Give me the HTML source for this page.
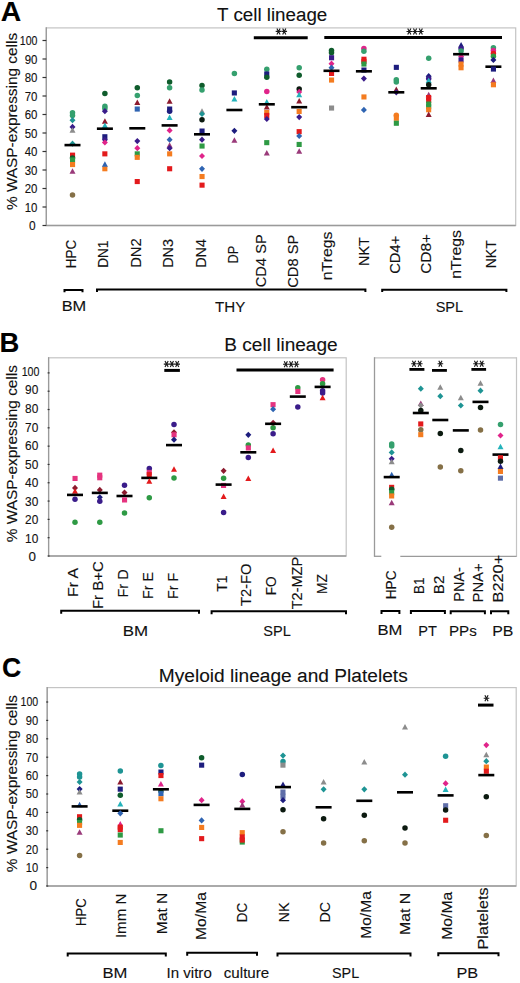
<!DOCTYPE html>
<html><head><meta charset="utf-8"><title>WASP expression</title>
<style>
html,body{margin:0;padding:0;background:#fff;width:520px;height:983px;overflow:hidden;}
svg{display:block;}
text{font-family:"Liberation Sans",sans-serif;stroke:#111;stroke-width:0.12px;}
</style></head>
<body>
<svg width="520" height="983" viewBox="0 0 520 983">
<rect x="46.3" y="27.9" width="469.4" height="197.6" fill="none" stroke="#c4c4c4" stroke-width="1.2"/>
<line x1="46.3" y1="27.3" x2="46.3" y2="225.5" stroke="#9a9a9a" stroke-width="1.3"/>
<line x1="45.7" y1="225.5" x2="515.7" y2="225.5" stroke="#9a9a9a" stroke-width="1.3"/>
<line x1="42.5" y1="225.5" x2="46.3" y2="225.5" stroke="#333" stroke-width="1.2"/>
<line x1="42.5" y1="207.0" x2="46.3" y2="207.0" stroke="#333" stroke-width="1.2"/>
<line x1="42.5" y1="188.5" x2="46.3" y2="188.5" stroke="#333" stroke-width="1.2"/>
<line x1="42.5" y1="170.0" x2="46.3" y2="170.0" stroke="#333" stroke-width="1.2"/>
<line x1="42.5" y1="151.5" x2="46.3" y2="151.5" stroke="#333" stroke-width="1.2"/>
<line x1="42.5" y1="133.0" x2="46.3" y2="133.0" stroke="#333" stroke-width="1.2"/>
<line x1="42.5" y1="114.5" x2="46.3" y2="114.5" stroke="#333" stroke-width="1.2"/>
<line x1="42.5" y1="96.0" x2="46.3" y2="96.0" stroke="#333" stroke-width="1.2"/>
<line x1="42.5" y1="77.5" x2="46.3" y2="77.5" stroke="#333" stroke-width="1.2"/>
<line x1="42.5" y1="59.0" x2="46.3" y2="59.0" stroke="#333" stroke-width="1.2"/>
<line x1="42.5" y1="40.5" x2="46.3" y2="40.5" stroke="#333" stroke-width="1.2"/>
<text x="29.05" y="230.02" font-size="13" textLength="6.63" lengthAdjust="spacingAndGlyphs" fill="#111">0</text>
<text x="24.75" y="211.52" font-size="13" textLength="12.73" lengthAdjust="spacingAndGlyphs" fill="#111">10</text>
<text x="24.75" y="193.02" font-size="13" textLength="12.73" lengthAdjust="spacingAndGlyphs" fill="#111">20</text>
<text x="24.75" y="174.52" font-size="13" textLength="12.73" lengthAdjust="spacingAndGlyphs" fill="#111">30</text>
<text x="24.75" y="156.02" font-size="13" textLength="12.73" lengthAdjust="spacingAndGlyphs" fill="#111">40</text>
<text x="24.75" y="137.52" font-size="13" textLength="12.73" lengthAdjust="spacingAndGlyphs" fill="#111">50</text>
<text x="24.75" y="119.02" font-size="13" textLength="12.73" lengthAdjust="spacingAndGlyphs" fill="#111">60</text>
<text x="24.75" y="100.52" font-size="13" textLength="12.73" lengthAdjust="spacingAndGlyphs" fill="#111">70</text>
<text x="24.75" y="82.02" font-size="13" textLength="12.73" lengthAdjust="spacingAndGlyphs" fill="#111">80</text>
<text x="24.75" y="63.52" font-size="13" textLength="12.73" lengthAdjust="spacingAndGlyphs" fill="#111">90</text>
<text x="19.85" y="45.02" font-size="13" textLength="17.65" lengthAdjust="spacingAndGlyphs" fill="#111">100</text>
<circle cx="72.5" cy="112.8" r="2.75" fill="#35a06e"/>
<circle cx="72.5" cy="115.5" r="2.75" fill="#35a06e"/>
<path d="M72.5 117.1L75.5 120.2L72.5 123.3L69.5 120.2Z" fill="#1e9494"/>
<path d="M72.5 123.8L75.5 126.9L72.5 130.0L69.5 126.9Z" fill="#3a1c8a"/>
<path d="M72.5 127.3L75.5 132.8L69.5 132.8Z" fill="#8c8c8c"/>
<path d="M72.5 140.6L75.5 143.7L72.5 146.8L69.5 143.7Z" fill="#1e9494"/>
<rect x="64.5" y="143.8" width="16" height="2.6" fill="#000"/>
<rect x="70.0" y="152.6" width="5.1" height="5.1" fill="#e31a1c"/>
<circle cx="72.5" cy="157.9" r="2.75" fill="#0f5c2c"/>
<rect x="70.0" y="157.4" width="5.1" height="5.1" fill="#2e9a44"/>
<rect x="70.0" y="162.0" width="5.1" height="5.1" fill="#f47c20"/>
<path d="M72.5 168.3L75.5 173.8L69.5 173.8Z" fill="#9a3a7a"/>
<circle cx="72.5" cy="194.9" r="2.75" fill="#857047"/>
<circle cx="104.9" cy="93.4" r="2.75" fill="#0f5c2c"/>
<circle cx="104.9" cy="106.2" r="2.75" fill="#35a06e"/>
<circle cx="104.9" cy="108.4" r="2.75" fill="#35a06e"/>
<path d="M104.9 108.1L107.9 111.2L104.9 114.3L101.9 111.2Z" fill="#3a1c8a"/>
<path d="M104.9 118.2L107.9 123.7L101.9 123.7Z" fill="#8c1a2e"/>
<path d="M104.9 122.4L107.9 127.9L101.9 127.9Z" fill="#25b3bb"/>
<rect x="96.9" y="127.4" width="16" height="2.6" fill="#000"/>
<rect x="102.3" y="134.2" width="5.1" height="5.1" fill="#1d1d7e"/>
<path d="M104.9 136.6L107.9 139.7L104.9 142.8L101.9 139.7Z" fill="#3a1c8a"/>
<path d="M104.9 139.4L107.9 142.5L104.9 145.6L101.9 142.5Z" fill="#e0248a"/>
<rect x="102.3" y="151.3" width="5.1" height="5.1" fill="#e31a1c"/>
<rect x="102.3" y="166.2" width="5.1" height="5.1" fill="#f47c20"/>
<path d="M104.9 161.2L107.9 166.7L101.9 166.7Z" fill="#2f64b2"/>
<circle cx="137.3" cy="87.7" r="2.75" fill="#0f5c2c"/>
<circle cx="137.3" cy="95.6" r="2.75" fill="#35a06e"/>
<path d="M137.3 99.4L140.3 104.9L134.3 104.9Z" fill="#8c1a2e"/>
<rect x="134.7" y="106.5" width="5.1" height="5.1" fill="#2f64b2"/>
<rect x="129.3" y="127.0" width="16" height="2.6" fill="#000"/>
<path d="M137.3 138.0L140.3 141.1L137.3 144.2L134.3 141.1Z" fill="#3a1c8a"/>
<path d="M137.3 145.1L140.3 148.2L137.3 151.3L134.3 148.2Z" fill="#e0248a"/>
<rect x="134.7" y="151.3" width="5.1" height="5.1" fill="#2e9a44"/>
<rect x="134.7" y="154.8" width="5.1" height="5.1" fill="#f47c20"/>
<rect x="134.7" y="179.0" width="5.1" height="5.1" fill="#e31a1c"/>
<circle cx="169.6" cy="82.0" r="2.75" fill="#0f5c2c"/>
<circle cx="169.6" cy="87.7" r="2.75" fill="#35a06e"/>
<path d="M169.6 98.3L172.6 103.8L166.6 103.8Z" fill="#8c1a2e"/>
<rect x="167.1" y="106.5" width="5.1" height="5.1" fill="#1d1d7e"/>
<circle cx="169.6" cy="111.2" r="2.75" fill="#1d1d7e"/>
<path d="M169.6 114.6L172.6 120.1L166.6 120.1Z" fill="#25b3bb"/>
<rect x="161.6" y="124.1" width="16" height="2.6" fill="#000"/>
<path d="M169.6 127.3L172.6 130.4L169.6 133.5L166.6 130.4Z" fill="#e0248a"/>
<path d="M169.6 136.6L172.6 139.7L169.6 142.8L166.6 139.7Z" fill="#2f64b2"/>
<path d="M169.6 142.3L172.6 147.8L166.6 147.8Z" fill="#9a3a7a"/>
<path d="M169.6 145.1L172.6 148.2L169.6 151.3L166.6 148.2Z" fill="#3a1c8a"/>
<rect x="167.1" y="151.3" width="5.1" height="5.1" fill="#f47c20"/>
<rect x="167.1" y="166.2" width="5.1" height="5.1" fill="#e31a1c"/>
<circle cx="202.0" cy="85.6" r="2.75" fill="#0f5c2c"/>
<circle cx="202.0" cy="89.9" r="2.75" fill="#35a06e"/>
<path d="M202.0 108.2L205.0 113.7L199.0 113.7Z" fill="#8c8c8c"/>
<path d="M202.0 110.9L205.0 114.0L202.0 117.1L199.0 114.0Z" fill="#1e9494"/>
<circle cx="202.0" cy="119.7" r="2.75" fill="#0c1a10"/>
<rect x="199.5" y="128.5" width="5.1" height="5.1" fill="#1d1d7e"/>
<rect x="194.0" y="133.0" width="16" height="2.6" fill="#000"/>
<path d="M202.0 136.6L205.0 139.7L202.0 142.8L199.0 139.7Z" fill="#3a1c8a"/>
<rect x="199.5" y="143.5" width="5.1" height="5.1" fill="#2e9a44"/>
<path d="M202.0 152.9L205.0 156.0L202.0 159.1L199.0 156.0Z" fill="#e0248a"/>
<path d="M202.0 165.7L205.0 168.8L202.0 171.9L199.0 168.8Z" fill="#2f64b2"/>
<rect x="199.5" y="174.0" width="5.1" height="5.1" fill="#f47c20"/>
<rect x="199.5" y="182.6" width="5.1" height="5.1" fill="#e31a1c"/>
<circle cx="234.4" cy="73.4" r="2.75" fill="#35a06e"/>
<rect x="231.8" y="90.4" width="5.1" height="5.1" fill="#1d1d7e"/>
<path d="M234.4 96.0L237.4 101.5L231.4 101.5Z" fill="#25b3bb"/>
<rect x="226.4" y="108.7" width="16" height="2.6" fill="#000"/>
<path d="M234.4 127.7L237.4 130.8L234.4 133.9L231.4 130.8Z" fill="#1d1d7e"/>
<path d="M234.4 137.3L237.4 142.8L231.4 142.8Z" fill="#9a3a7a"/>
<circle cx="266.8" cy="69.2" r="2.75" fill="#35a06e"/>
<rect x="264.2" y="71.4" width="5.1" height="5.1" fill="#1d1d7e"/>
<circle cx="266.8" cy="77.3" r="2.75" fill="#0f5c2c"/>
<circle cx="266.8" cy="91.5" r="2.75" fill="#e0248a"/>
<path d="M266.8 98.9L269.8 104.4L263.8 104.4Z" fill="#25b3bb"/>
<path d="M266.8 103.9L269.8 109.4L263.8 109.4Z" fill="#8c1a2e"/>
<rect x="258.8" y="103.0" width="16" height="2.6" fill="#000"/>
<rect x="264.2" y="110.0" width="5.1" height="5.1" fill="#f47c20"/>
<rect x="264.2" y="112.9" width="5.1" height="5.1" fill="#e31a1c"/>
<path d="M266.8 115.9L269.8 119.0L266.8 122.1L263.8 119.0Z" fill="#3a1c8a"/>
<rect x="264.2" y="140.1" width="5.1" height="5.1" fill="#2e9a44"/>
<path d="M266.8 150.1L269.8 155.6L263.8 155.6Z" fill="#9a3a7a"/>
<circle cx="299.2" cy="67.7" r="2.75" fill="#35a06e"/>
<circle cx="299.2" cy="75.2" r="2.75" fill="#0f5c2c"/>
<circle cx="299.2" cy="89.0" r="2.75" fill="#0c1a10"/>
<path d="M299.2 88.8L302.2 91.9L299.2 95.0L296.2 91.9Z" fill="#e0248a"/>
<path d="M299.2 91.7L302.2 97.2L296.2 97.2Z" fill="#25b3bb"/>
<path d="M299.2 98.1L302.2 103.6L296.2 103.6Z" fill="#8c1a2e"/>
<rect x="291.2" y="105.9" width="16" height="2.6" fill="#000"/>
<rect x="296.6" y="108.9" width="5.1" height="5.1" fill="#f47c20"/>
<path d="M299.2 114.0L302.2 117.1L299.2 120.2L296.2 117.1Z" fill="#3a1c8a"/>
<rect x="296.6" y="129.1" width="5.1" height="5.1" fill="#e31a1c"/>
<path d="M299.2 132.9L302.2 136.0L299.2 139.1L296.2 136.0Z" fill="#2f64b2"/>
<rect x="296.6" y="141.9" width="5.1" height="5.1" fill="#2e9a44"/>
<path d="M299.2 148.3L302.2 153.8L296.2 153.8Z" fill="#9a3a7a"/>
<circle cx="331.5" cy="50.6" r="2.75" fill="#0f5c2c"/>
<circle cx="331.5" cy="52.8" r="2.75" fill="#0f5c2c"/>
<rect x="329.0" y="55.2" width="5.1" height="5.1" fill="#3a1c8a"/>
<path d="M331.5 60.6L334.5 63.7L331.5 66.8L328.5 63.7Z" fill="#e0248a"/>
<path d="M331.5 64.6L334.5 67.7L331.5 70.8L328.5 67.7Z" fill="#2f64b2"/>
<rect x="329.0" y="70.9" width="5.1" height="5.1" fill="#e31a1c"/>
<rect x="323.5" y="69.5" width="16" height="2.6" fill="#000"/>
<rect x="329.0" y="77.5" width="5.1" height="5.1" fill="#f47c20"/>
<rect x="329.0" y="105.5" width="5.1" height="5.1" fill="#8c8c8c"/>
<circle cx="363.9" cy="48.5" r="2.75" fill="#e0248a"/>
<circle cx="363.9" cy="51.3" r="2.75" fill="#35a06e"/>
<rect x="361.4" y="56.7" width="5.1" height="5.1" fill="#e31a1c"/>
<rect x="361.4" y="58.8" width="5.1" height="5.1" fill="#e31a1c"/>
<rect x="361.4" y="61.5" width="5.1" height="5.1" fill="#2e9a44"/>
<rect x="361.4" y="67.5" width="5.1" height="5.1" fill="#1d1d7e"/>
<rect x="355.9" y="70.0" width="16" height="2.6" fill="#000"/>
<path d="M363.9 75.5L366.9 78.6L363.9 81.7L360.9 78.6Z" fill="#3a1c8a"/>
<rect x="361.4" y="94.4" width="5.1" height="5.1" fill="#f47c20"/>
<path d="M363.9 106.8L366.9 109.9L363.9 113.0L360.9 109.9Z" fill="#2f64b2"/>
<rect x="393.8" y="64.8" width="5.1" height="5.1" fill="#1d1d7e"/>
<circle cx="396.3" cy="79.8" r="2.75" fill="#35a06e"/>
<circle cx="396.3" cy="81.9" r="2.75" fill="#35a06e"/>
<path d="M396.3 86.5L399.3 92.0L393.3 92.0Z" fill="#8c1a2e"/>
<path d="M396.3 89.2L399.3 92.3L396.3 95.4L393.3 92.3Z" fill="#3a1c8a"/>
<rect x="388.3" y="91.0" width="16" height="2.6" fill="#000"/>
<circle cx="396.3" cy="115.3" r="2.75" fill="#f47c20"/>
<rect x="393.8" y="115.7" width="5.1" height="5.1" fill="#f47c20"/>
<rect x="393.8" y="120.7" width="5.1" height="5.1" fill="#2e9a44"/>
<circle cx="428.7" cy="58.2" r="2.75" fill="#35a06e"/>
<path d="M428.7 73.1L431.7 76.2L428.7 79.3L425.7 76.2Z" fill="#1d1d7e"/>
<circle cx="428.7" cy="78.4" r="2.75" fill="#3a1c8a"/>
<path d="M428.7 77.5L431.7 83.0L425.7 83.0Z" fill="#25b3bb"/>
<circle cx="428.7" cy="84.8" r="2.75" fill="#0c1a10"/>
<rect x="420.7" y="87.0" width="16" height="2.6" fill="#000"/>
<path d="M428.7 91.7L431.7 97.2L425.7 97.2Z" fill="#9a3a7a"/>
<rect x="426.1" y="95.0" width="5.1" height="5.1" fill="#e31a1c"/>
<rect x="426.1" y="97.9" width="5.1" height="5.1" fill="#e31a1c"/>
<rect x="426.1" y="101.5" width="5.1" height="5.1" fill="#2e9a44"/>
<rect x="426.1" y="104.2" width="5.1" height="5.1" fill="#2e9a44"/>
<rect x="426.1" y="107.2" width="5.1" height="5.1" fill="#f47c20"/>
<path d="M428.7 111.6L431.7 117.1L425.7 117.1Z" fill="#8c1a2e"/>
<path d="M461.1 41.9L464.1 47.4L458.1 47.4Z" fill="#1d1d7e"/>
<circle cx="461.1" cy="48.5" r="2.75" fill="#3a1c8a"/>
<circle cx="461.1" cy="51.0" r="2.75" fill="#35a06e"/>
<path d="M461.1 53.4L464.1 56.5L461.1 59.6L458.1 56.5Z" fill="#e0248a"/>
<rect x="458.5" y="57.4" width="5.1" height="5.1" fill="#3a1c8a"/>
<rect x="453.1" y="52.9" width="16" height="2.6" fill="#000"/>
<rect x="458.5" y="61.5" width="5.1" height="5.1" fill="#f47c20"/>
<rect x="458.5" y="65.2" width="5.1" height="5.1" fill="#f47c20"/>
<circle cx="493.4" cy="47.8" r="2.75" fill="#35a06e"/>
<circle cx="493.4" cy="50.5" r="2.75" fill="#e0248a"/>
<circle cx="493.4" cy="53.5" r="2.75" fill="#e31a1c"/>
<circle cx="493.4" cy="56.3" r="2.75" fill="#2e9a44"/>
<path d="M493.4 56.8L496.4 59.9L493.4 63.0L490.4 59.9Z" fill="#1d1d7e"/>
<rect x="485.4" y="65.4" width="16" height="2.6" fill="#000"/>
<rect x="490.9" y="66.5" width="5.1" height="5.1" fill="#1d1d7e"/>
<path d="M493.4 77.5L496.4 83.0L490.4 83.0Z" fill="#9a3a7a"/>
<rect x="490.9" y="82.2" width="5.1" height="5.1" fill="#f47c20"/>
<line x1="253.8" y1="37.7" x2="307.7" y2="37.7" stroke="#000" stroke-width="3"/>
<path d="M275.70 31.40H281.30M276.90 28.40L280.10 34.40M276.90 34.40L280.10 28.40" stroke="#1a1a1a" stroke-width="1.15" fill="none"/>
<path d="M281.45 31.40H287.05M282.65 28.40L285.85 34.40M282.65 34.40L285.85 28.40" stroke="#1a1a1a" stroke-width="1.15" fill="none"/>
<line x1="324.3" y1="37.5" x2="502.0" y2="37.5" stroke="#000" stroke-width="3"/>
<path d="M406.50 31.50H412.10M407.70 28.50L410.90 34.50M407.70 34.50L410.90 28.50" stroke="#1a1a1a" stroke-width="1.15" fill="none"/>
<path d="M412.25 31.50H417.85M413.45 28.50L416.65 34.50M413.45 34.50L416.65 28.50" stroke="#1a1a1a" stroke-width="1.15" fill="none"/>
<path d="M418.00 31.50H423.60M419.20 28.50L422.40 34.50M419.20 34.50L422.40 28.50" stroke="#1a1a1a" stroke-width="1.15" fill="none"/>
<path d="M64.5 292.3V290.0H82.5V292.3" fill="none" stroke="#000" stroke-width="2"/>
<path d="M97.0 291.90000000000003V289.6H365.4V291.90000000000003" fill="none" stroke="#000" stroke-width="2"/>
<path d="M382.2 292.0V289.7H506.4V292.0" fill="none" stroke="#000" stroke-width="2"/>
<rect x="48.6" y="357.8" width="297.6" height="198.2" fill="none" stroke="#c4c4c4" stroke-width="1.2"/>
<line x1="48.6" y1="357.2" x2="48.6" y2="556.0" stroke="#9a9a9a" stroke-width="1.3"/>
<line x1="48.0" y1="556.0" x2="346.2" y2="556.0" stroke="#9a9a9a" stroke-width="1.3"/>
<line x1="47.6" y1="556.0" x2="49.6" y2="556.0" stroke="#333" stroke-width="1.2"/>
<line x1="47.6" y1="537.69" x2="49.6" y2="537.69" stroke="#333" stroke-width="1.2"/>
<line x1="47.6" y1="519.38" x2="49.6" y2="519.38" stroke="#333" stroke-width="1.2"/>
<line x1="47.6" y1="501.07" x2="49.6" y2="501.07" stroke="#333" stroke-width="1.2"/>
<line x1="47.6" y1="482.76" x2="49.6" y2="482.76" stroke="#333" stroke-width="1.2"/>
<line x1="47.6" y1="464.45" x2="49.6" y2="464.45" stroke="#333" stroke-width="1.2"/>
<line x1="47.6" y1="446.14" x2="49.6" y2="446.14" stroke="#333" stroke-width="1.2"/>
<line x1="47.6" y1="427.83" x2="49.6" y2="427.83" stroke="#333" stroke-width="1.2"/>
<line x1="47.6" y1="409.52" x2="49.6" y2="409.52" stroke="#333" stroke-width="1.2"/>
<line x1="47.6" y1="391.21" x2="49.6" y2="391.21" stroke="#333" stroke-width="1.2"/>
<line x1="47.6" y1="372.9" x2="49.6" y2="372.9" stroke="#333" stroke-width="1.2"/>
<text x="28.55" y="561.32" font-size="13" textLength="7.45" lengthAdjust="spacingAndGlyphs" fill="#111">0</text>
<text x="25.10" y="542.78" font-size="13" textLength="13.20" lengthAdjust="spacingAndGlyphs" fill="#111">10</text>
<text x="25.10" y="524.24" font-size="13" textLength="13.20" lengthAdjust="spacingAndGlyphs" fill="#111">20</text>
<text x="25.10" y="505.70" font-size="13" textLength="13.20" lengthAdjust="spacingAndGlyphs" fill="#111">30</text>
<text x="25.10" y="487.16" font-size="13" textLength="13.20" lengthAdjust="spacingAndGlyphs" fill="#111">40</text>
<text x="25.10" y="468.62" font-size="13" textLength="13.20" lengthAdjust="spacingAndGlyphs" fill="#111">50</text>
<text x="25.10" y="450.08" font-size="13" textLength="13.20" lengthAdjust="spacingAndGlyphs" fill="#111">60</text>
<text x="25.10" y="431.54" font-size="13" textLength="13.20" lengthAdjust="spacingAndGlyphs" fill="#111">70</text>
<text x="25.10" y="413.00" font-size="13" textLength="13.20" lengthAdjust="spacingAndGlyphs" fill="#111">80</text>
<text x="25.10" y="394.46" font-size="13" textLength="13.20" lengthAdjust="spacingAndGlyphs" fill="#111">90</text>
<text x="21.70" y="375.92" font-size="13" textLength="17.80" lengthAdjust="spacingAndGlyphs" fill="#111">100</text>
<line x1="374.5" y1="357.8" x2="516.5" y2="357.8" stroke="#c4c4c4" stroke-width="1.2"/>
<line x1="516.5" y1="357.2" x2="516.5" y2="556.9" stroke="#c4c4c4" stroke-width="1.2"/>
<line x1="374.5" y1="357.2" x2="374.5" y2="556.3" stroke="#9a9a9a" stroke-width="1.3"/>
<line x1="373.9" y1="556.3" x2="381.3" y2="556.3" stroke="#9a9a9a" stroke-width="1.3"/>
<line x1="400.3" y1="556.3" x2="516.5" y2="556.3" stroke="#9a9a9a" stroke-width="1.3"/>
<rect x="72.5" y="475.9" width="5.1" height="5.1" fill="#e5337f"/>
<path d="M75.0 484.8L78.0 487.9L75.0 491.0L72.0 487.9Z" fill="#8c1a2e"/>
<path d="M75.0 488.2L78.0 493.7L72.0 493.7Z" fill="#e31a1c"/>
<rect x="67.0" y="493.6" width="16" height="2.6" fill="#000"/>
<circle cx="75.0" cy="499.3" r="2.75" fill="#3a1c8a"/>
<circle cx="75.0" cy="522.2" r="2.75" fill="#2e9a44"/>
<rect x="97.2" y="472.6" width="5.1" height="5.1" fill="#e5337f"/>
<rect x="97.2" y="475.2" width="5.1" height="5.1" fill="#e5337f"/>
<path d="M99.8 486.8L102.8 489.9L99.8 493.0L96.8 489.9Z" fill="#8c1a2e"/>
<rect x="91.8" y="491.6" width="16" height="2.6" fill="#000"/>
<path d="M99.8 494.2L102.8 497.3L99.8 500.4L96.8 497.3Z" fill="#1d1d7e"/>
<circle cx="99.8" cy="501.3" r="2.75" fill="#3a1c8a"/>
<circle cx="99.8" cy="522.2" r="2.75" fill="#2e9a44"/>
<circle cx="124.5" cy="485.2" r="2.75" fill="#3a1c8a"/>
<path d="M124.5 489.5L127.5 492.6L124.5 495.7L121.5 492.6Z" fill="#8c1a2e"/>
<rect x="116.5" y="494.7" width="16" height="2.6" fill="#000"/>
<rect x="122.0" y="497.4" width="5.1" height="5.1" fill="#e5337f"/>
<circle cx="124.5" cy="513.0" r="2.75" fill="#2e9a44"/>
<circle cx="149.3" cy="468.5" r="2.75" fill="#3a1c8a"/>
<rect x="146.7" y="469.9" width="5.1" height="5.1" fill="#e5337f"/>
<rect x="146.7" y="472.1" width="5.1" height="5.1" fill="#e31a1c"/>
<rect x="141.3" y="476.6" width="16" height="2.6" fill="#000"/>
<path d="M149.3 478.3L152.3 483.8L146.3 483.8Z" fill="#e31a1c"/>
<circle cx="149.3" cy="497.8" r="2.75" fill="#2e9a44"/>
<circle cx="174.0" cy="424.4" r="2.75" fill="#3a1c8a"/>
<path d="M174.0 429.2L177.0 432.3L174.0 435.4L171.0 432.3Z" fill="#8c1a2e"/>
<rect x="171.5" y="432.2" width="5.1" height="5.1" fill="#e5337f"/>
<path d="M174.0 436.6L177.0 439.7L174.0 442.8L171.0 439.7Z" fill="#1d1d7e"/>
<rect x="166.0" y="443.8" width="16" height="2.6" fill="#000"/>
<path d="M174.0 466.3L177.0 471.8L171.0 471.8Z" fill="#e31a1c"/>
<circle cx="174.0" cy="477.9" r="2.75" fill="#2e9a44"/>
<path d="M223.6 467.7L226.6 470.8L223.6 473.9L220.6 470.8Z" fill="#8c1a2e"/>
<circle cx="223.6" cy="478.2" r="2.75" fill="#2e9a44"/>
<rect x="221.0" y="482.9" width="5.1" height="5.1" fill="#e5337f"/>
<rect x="215.6" y="483.3" width="16" height="2.6" fill="#000"/>
<path d="M223.6 493.4L226.6 498.9L220.6 498.9Z" fill="#e31a1c"/>
<circle cx="223.6" cy="512.6" r="2.75" fill="#3a1c8a"/>
<path d="M248.3 431.7L251.3 434.8L248.3 437.9L245.3 434.8Z" fill="#1d1d7e"/>
<circle cx="248.3" cy="445.1" r="2.75" fill="#2e9a44"/>
<rect x="245.8" y="445.4" width="5.1" height="5.1" fill="#e5337f"/>
<rect x="240.3" y="451.0" width="16" height="2.6" fill="#000"/>
<circle cx="248.3" cy="457.5" r="2.75" fill="#3a1c8a"/>
<path d="M248.3 475.4L251.3 480.9L245.3 480.9Z" fill="#e31a1c"/>
<rect x="270.5" y="402.1" width="5.1" height="5.1" fill="#e5337f"/>
<path d="M273.1 406.1L276.1 409.2L273.1 412.3L270.1 409.2Z" fill="#2f64b2"/>
<circle cx="273.1" cy="427.7" r="2.75" fill="#2e9a44"/>
<path d="M273.1 419.7L276.1 422.8L273.1 425.9L270.1 422.8Z" fill="#8c1a2e"/>
<rect x="265.1" y="422.5" width="16" height="2.6" fill="#000"/>
<circle cx="273.1" cy="433.8" r="2.75" fill="#3a1c8a"/>
<path d="M273.1 447.5L276.1 453.0L270.1 453.0Z" fill="#e31a1c"/>
<circle cx="297.8" cy="387.7" r="2.75" fill="#2e9a44"/>
<rect x="295.3" y="388.9" width="5.1" height="5.1" fill="#e5337f"/>
<rect x="289.8" y="395.3" width="16" height="2.6" fill="#000"/>
<circle cx="297.8" cy="406.9" r="2.75" fill="#3a1c8a"/>
<circle cx="322.6" cy="379.7" r="2.75" fill="#e5337f"/>
<circle cx="322.6" cy="383.8" r="2.75" fill="#2e9a44"/>
<circle cx="322.6" cy="390.8" r="2.75" fill="#3a1c8a"/>
<circle cx="322.6" cy="393.1" r="2.75" fill="#3a1c8a"/>
<rect x="314.6" y="385.6" width="16" height="2.6" fill="#000"/>
<path d="M322.6 394.7L325.6 400.2L319.6 400.2Z" fill="#e31a1c"/>
<line x1="164.3" y1="370.4" x2="179.9" y2="370.4" stroke="#000" stroke-width="3"/>
<path d="M163.80 364.10H169.40M165.00 361.10L168.20 367.10M165.00 367.10L168.20 361.10" stroke="#1a1a1a" stroke-width="1.15" fill="none"/>
<path d="M169.10 364.10H174.70M170.30 361.10L173.50 367.10M170.30 367.10L173.50 361.10" stroke="#1a1a1a" stroke-width="1.15" fill="none"/>
<path d="M174.40 364.10H180.00M175.60 361.10L178.80 367.10M175.60 367.10L178.80 361.10" stroke="#1a1a1a" stroke-width="1.15" fill="none"/>
<line x1="236.5" y1="370.0" x2="333.6" y2="370.0" stroke="#000" stroke-width="3"/>
<path d="M283.00 364.20H288.60M284.20 361.20L287.40 367.20M284.20 367.20L287.40 361.20" stroke="#1a1a1a" stroke-width="1.15" fill="none"/>
<path d="M288.30 364.20H293.90M289.50 361.20L292.70 367.20M289.50 367.20L292.70 361.20" stroke="#1a1a1a" stroke-width="1.15" fill="none"/>
<path d="M293.60 364.20H299.20M294.80 361.20L298.00 367.20M294.80 367.20L298.00 361.20" stroke="#1a1a1a" stroke-width="1.15" fill="none"/>
<circle cx="391.7" cy="443.9" r="2.75" fill="#35a06e"/>
<circle cx="391.7" cy="446.0" r="2.75" fill="#35a06e"/>
<path d="M391.7 449.3L394.7 452.4L391.7 455.5L388.7 452.4Z" fill="#1e9494"/>
<path d="M391.7 455.7L394.7 458.8L391.7 461.9L388.7 458.8Z" fill="#3a1c8a"/>
<path d="M391.7 458.7L394.7 464.2L388.7 464.2Z" fill="#8c8c8c"/>
<path d="M391.7 471.8L394.7 477.3L388.7 477.3Z" fill="#2f64b2"/>
<rect x="383.7" y="475.8" width="16" height="2.6" fill="#000"/>
<rect x="389.1" y="484.8" width="5.1" height="5.1" fill="#e31a1c"/>
<circle cx="391.7" cy="489.2" r="2.75" fill="#0f5c2c"/>
<rect x="389.1" y="490.1" width="5.1" height="5.1" fill="#2e9a44"/>
<rect x="389.1" y="493.4" width="5.1" height="5.1" fill="#f47c20"/>
<path d="M391.7 499.7L394.7 505.2L388.7 505.2Z" fill="#9a3a7a"/>
<circle cx="391.7" cy="527.2" r="2.75" fill="#857047"/>
<path d="M420.8 385.6L423.8 388.7L420.8 391.8L417.8 388.7Z" fill="#1e9494"/>
<path d="M420.8 400.4L423.8 405.9L417.8 405.9Z" fill="#9a3a7a"/>
<path d="M420.8 402.4L423.8 405.5L420.8 408.6L417.8 405.5Z" fill="#8c8c8c"/>
<circle cx="420.8" cy="410.5" r="2.75" fill="#0c1a10"/>
<rect x="412.8" y="411.7" width="16" height="2.6" fill="#000"/>
<rect x="418.2" y="421.4" width="5.1" height="5.1" fill="#e31a1c"/>
<circle cx="420.8" cy="429.7" r="2.75" fill="#857047"/>
<rect x="418.2" y="432.1" width="5.1" height="5.1" fill="#f47c20"/>
<path d="M440.3 384.2L443.3 389.7L437.3 389.7Z" fill="#8c8c8c"/>
<path d="M440.3 393.1L443.3 396.2L440.3 399.3L437.3 396.2Z" fill="#1e9494"/>
<rect x="432.3" y="418.7" width="16" height="2.6" fill="#000"/>
<circle cx="440.3" cy="433.5" r="2.75" fill="#0c1a10"/>
<circle cx="440.3" cy="467.0" r="2.75" fill="#857047"/>
<path d="M460.8 394.8L463.8 400.3L457.8 400.3Z" fill="#8c8c8c"/>
<path d="M460.8 402.4L463.8 405.5L460.8 408.6L457.8 405.5Z" fill="#1e9494"/>
<rect x="452.8" y="429.1" width="16" height="2.6" fill="#000"/>
<circle cx="460.8" cy="450.4" r="2.75" fill="#0c1a10"/>
<circle cx="460.8" cy="470.7" r="2.75" fill="#857047"/>
<path d="M480.5 380.2L483.5 385.7L477.5 385.7Z" fill="#8c8c8c"/>
<path d="M480.5 387.6L483.5 390.7L480.5 393.8L477.5 390.7Z" fill="#1e9494"/>
<rect x="472.5" y="400.6" width="16" height="2.6" fill="#000"/>
<circle cx="480.5" cy="407.6" r="2.75" fill="#0c1a10"/>
<circle cx="480.5" cy="429.9" r="2.75" fill="#857047"/>
<circle cx="500.5" cy="424.5" r="2.75" fill="#35a06e"/>
<path d="M500.5 432.4L503.5 435.5L500.5 438.6L497.5 435.5Z" fill="#e0248a"/>
<path d="M500.5 443.8L503.5 449.3L497.5 449.3Z" fill="#25b3bb"/>
<rect x="492.5" y="453.3" width="16" height="2.6" fill="#000"/>
<rect x="497.9" y="455.2" width="5.1" height="5.1" fill="#e31a1c"/>
<circle cx="500.5" cy="461.2" r="2.75" fill="#0c1a10"/>
<path d="M500.5 463.5L503.5 469.0L497.5 469.0Z" fill="#1d1d7e"/>
<rect x="497.9" y="468.9" width="5.1" height="5.1" fill="#f47c20"/>
<rect x="497.9" y="475.6" width="5.1" height="5.1" fill="#5f6ea8"/>
<line x1="409.4" y1="369.4" x2="424.4" y2="369.4" stroke="#000" stroke-width="2.8"/>
<path d="M411.20 363.70H416.80M412.40 360.70L415.60 366.70M412.40 366.70L415.60 360.70" stroke="#1a1a1a" stroke-width="1.15" fill="none"/>
<path d="M416.95 363.70H422.55M418.15 360.70L421.35 366.70M418.15 366.70L421.35 360.70" stroke="#1a1a1a" stroke-width="1.15" fill="none"/>
<line x1="432.0" y1="370.4" x2="446.9" y2="370.4" stroke="#000" stroke-width="2.8"/>
<path d="M437.60 363.70H443.20M438.80 360.70L442.00 366.70M438.80 366.70L442.00 360.70" stroke="#1a1a1a" stroke-width="1.15" fill="none"/>
<line x1="471.4" y1="369.4" x2="486.1" y2="369.4" stroke="#000" stroke-width="2.8"/>
<path d="M473.20 363.70H478.80M474.40 360.70L477.60 366.70M474.40 366.70L477.60 360.70" stroke="#1a1a1a" stroke-width="1.15" fill="none"/>
<path d="M478.95 363.70H484.55M480.15 360.70L483.35 366.70M480.15 366.70L483.35 360.70" stroke="#1a1a1a" stroke-width="1.15" fill="none"/>
<path d="M61.2 613.8V610.8H199.0V613.8" fill="none" stroke="#000" stroke-width="2"/>
<path d="M211.6 614.2V611.2H346.0V614.2" fill="none" stroke="#000" stroke-width="2"/>
<path d="M381.5 614.1V611.1H399.4V614.1" fill="none" stroke="#000" stroke-width="2"/>
<path d="M410.9 614.1V611.1H444.9V614.1" fill="none" stroke="#000" stroke-width="2"/>
<path d="M450.7 614.3V611.3H484.9V614.3" fill="none" stroke="#000" stroke-width="2"/>
<path d="M491.0 614.3V611.3H508.3V614.3" fill="none" stroke="#000" stroke-width="2"/>
<rect x="47.2" y="687.6" width="469.0" height="198.4" fill="none" stroke="#c4c4c4" stroke-width="1.2"/>
<line x1="47.2" y1="687.0" x2="47.2" y2="886.0" stroke="#9a9a9a" stroke-width="1.3"/>
<line x1="46.6" y1="886.0" x2="516.2" y2="886.0" stroke="#9a9a9a" stroke-width="1.3"/>
<line x1="46.2" y1="886.0" x2="48.2" y2="886.0" stroke="#333" stroke-width="1.2"/>
<line x1="46.2" y1="867.6" x2="48.2" y2="867.6" stroke="#333" stroke-width="1.2"/>
<line x1="46.2" y1="849.2" x2="48.2" y2="849.2" stroke="#333" stroke-width="1.2"/>
<line x1="46.2" y1="830.8" x2="48.2" y2="830.8" stroke="#333" stroke-width="1.2"/>
<line x1="46.2" y1="812.4" x2="48.2" y2="812.4" stroke="#333" stroke-width="1.2"/>
<line x1="46.2" y1="794.0" x2="48.2" y2="794.0" stroke="#333" stroke-width="1.2"/>
<line x1="46.2" y1="775.6" x2="48.2" y2="775.6" stroke="#333" stroke-width="1.2"/>
<line x1="46.2" y1="757.2" x2="48.2" y2="757.2" stroke="#333" stroke-width="1.2"/>
<line x1="46.2" y1="738.8" x2="48.2" y2="738.8" stroke="#333" stroke-width="1.2"/>
<line x1="46.2" y1="720.4" x2="48.2" y2="720.4" stroke="#333" stroke-width="1.2"/>
<line x1="46.2" y1="702.0" x2="48.2" y2="702.0" stroke="#333" stroke-width="1.2"/>
<text x="29.40" y="890.42" font-size="13" textLength="7.57" lengthAdjust="spacingAndGlyphs" fill="#111">0</text>
<text x="25.75" y="872.01" font-size="13" textLength="12.42" lengthAdjust="spacingAndGlyphs" fill="#111">10</text>
<text x="25.75" y="853.60" font-size="13" textLength="12.42" lengthAdjust="spacingAndGlyphs" fill="#111">20</text>
<text x="25.75" y="835.19" font-size="13" textLength="12.42" lengthAdjust="spacingAndGlyphs" fill="#111">30</text>
<text x="25.75" y="816.78" font-size="13" textLength="12.42" lengthAdjust="spacingAndGlyphs" fill="#111">40</text>
<text x="25.75" y="798.37" font-size="13" textLength="12.42" lengthAdjust="spacingAndGlyphs" fill="#111">50</text>
<text x="25.75" y="779.96" font-size="13" textLength="12.42" lengthAdjust="spacingAndGlyphs" fill="#111">60</text>
<text x="25.75" y="761.55" font-size="13" textLength="12.42" lengthAdjust="spacingAndGlyphs" fill="#111">70</text>
<text x="25.75" y="743.14" font-size="13" textLength="12.42" lengthAdjust="spacingAndGlyphs" fill="#111">80</text>
<text x="25.75" y="724.73" font-size="13" textLength="12.42" lengthAdjust="spacingAndGlyphs" fill="#111">90</text>
<text x="20.55" y="706.32" font-size="13" textLength="17.65" lengthAdjust="spacingAndGlyphs" fill="#111">100</text>
<circle cx="79.6" cy="774.1" r="2.75" fill="#1e9494"/>
<circle cx="79.6" cy="777.0" r="2.75" fill="#1e9494"/>
<path d="M79.6 778.9L82.6 782.0L79.6 785.1L76.6 782.0Z" fill="#1e9494"/>
<path d="M79.6 786.0L82.6 789.1L79.6 792.2L76.6 789.1Z" fill="#1d1d7e"/>
<path d="M79.6 788.9L82.6 794.4L76.6 794.4Z" fill="#8c8c8c"/>
<path d="M79.6 801.7L82.6 807.2L76.6 807.2Z" fill="#2f64b2"/>
<rect x="71.6" y="805.1" width="16" height="2.6" fill="#000"/>
<rect x="77.0" y="814.2" width="5.1" height="5.1" fill="#e31a1c"/>
<circle cx="79.6" cy="819.7" r="2.75" fill="#0f5c2c"/>
<rect x="77.0" y="820.0" width="5.1" height="5.1" fill="#2e9a44"/>
<rect x="77.0" y="822.8" width="5.1" height="5.1" fill="#f47c20"/>
<path d="M79.6 829.2L82.6 834.7L76.6 834.7Z" fill="#9a3a7a"/>
<circle cx="79.6" cy="855.5" r="2.75" fill="#857047"/>
<circle cx="120.3" cy="771.0" r="2.75" fill="#1e9494"/>
<path d="M120.3 779.0L123.3 784.5L117.3 784.5Z" fill="#8c1a2e"/>
<rect x="117.7" y="786.6" width="5.1" height="5.1" fill="#1d1d7e"/>
<circle cx="120.3" cy="795.2" r="2.75" fill="#0f5c2c"/>
<path d="M120.3 801.0L123.3 806.5L117.3 806.5Z" fill="#25b3bb"/>
<rect x="112.3" y="809.4" width="16" height="2.6" fill="#000"/>
<path d="M120.3 810.2L123.3 813.3L120.3 816.4L117.3 813.3Z" fill="#2f64b2"/>
<path d="M120.3 820.9L123.3 826.4L117.3 826.4Z" fill="#e0248a"/>
<rect x="117.7" y="824.6" width="5.1" height="5.1" fill="#e31a1c"/>
<rect x="117.7" y="827.1" width="5.1" height="5.1" fill="#e31a1c"/>
<rect x="117.7" y="832.5" width="5.1" height="5.1" fill="#2e9a44"/>
<rect x="117.7" y="839.9" width="5.1" height="5.1" fill="#f47c20"/>
<circle cx="160.9" cy="765.6" r="2.75" fill="#1e9494"/>
<rect x="158.4" y="769.5" width="5.1" height="5.1" fill="#1d1d7e"/>
<rect x="158.4" y="773.0" width="5.1" height="5.1" fill="#e31a1c"/>
<path d="M160.9 781.1L163.9 786.6L157.9 786.6Z" fill="#e0248a"/>
<circle cx="160.9" cy="791.0" r="2.75" fill="#0f5c2c"/>
<rect x="158.4" y="791.1" width="5.1" height="5.1" fill="#2f64b2"/>
<rect x="152.9" y="788.0" width="16" height="2.6" fill="#000"/>
<rect x="158.4" y="796.2" width="5.1" height="5.1" fill="#f47c20"/>
<rect x="158.4" y="828.2" width="5.1" height="5.1" fill="#2e9a44"/>
<circle cx="201.6" cy="757.8" r="2.75" fill="#0f5c2c"/>
<rect x="199.1" y="762.6" width="5.1" height="5.1" fill="#1d1d7e"/>
<path d="M201.6 797.1L204.6 800.2L201.6 803.3L198.6 800.2Z" fill="#e0248a"/>
<rect x="193.6" y="803.6" width="16" height="2.6" fill="#000"/>
<path d="M201.6 817.3L204.6 820.4L201.6 823.5L198.6 820.4Z" fill="#2f64b2"/>
<rect x="199.1" y="824.9" width="5.1" height="5.1" fill="#f47c20"/>
<rect x="199.1" y="836.1" width="5.1" height="5.1" fill="#e31a1c"/>
<circle cx="242.3" cy="774.6" r="2.75" fill="#1d1d7e"/>
<path d="M242.3 798.3L245.3 801.4L242.3 804.5L239.3 801.4Z" fill="#e0248a"/>
<path d="M242.3 801.9L245.3 807.4L239.3 807.4Z" fill="#9a3a7a"/>
<rect x="234.3" y="807.6" width="16" height="2.6" fill="#000"/>
<rect x="239.7" y="830.1" width="5.1" height="5.1" fill="#f47c20"/>
<rect x="239.7" y="839.5" width="5.1" height="5.1" fill="#2e9a44"/>
<rect x="239.7" y="834.4" width="5.1" height="5.1" fill="#e31a1c"/>
<rect x="239.7" y="837.5" width="5.1" height="5.1" fill="#e31a1c"/>
<path d="M283.0 752.5L286.0 755.6L283.0 758.7L280.0 755.6Z" fill="#1e9494"/>
<circle cx="283.0" cy="761.6" r="2.75" fill="#1e9494"/>
<rect x="280.4" y="762.6" width="5.1" height="5.1" fill="#8c8c8c"/>
<path d="M283.0 781.6L286.0 787.1L280.0 787.1Z" fill="#1d1d7e"/>
<rect x="275.0" y="785.8" width="16" height="2.6" fill="#000"/>
<rect x="280.4" y="789.5" width="5.1" height="5.1" fill="#5f6ea8"/>
<rect x="280.4" y="793.7" width="5.1" height="5.1" fill="#5f6ea8"/>
<path d="M283.0 797.1L286.0 800.2L283.0 803.3L280.0 800.2Z" fill="#1d1d7e"/>
<circle cx="283.0" cy="809.7" r="2.75" fill="#0c1a10"/>
<circle cx="283.0" cy="831.7" r="2.75" fill="#857047"/>
<path d="M323.6 778.9L326.6 784.4L320.6 784.4Z" fill="#8c8c8c"/>
<path d="M323.6 786.2L326.6 789.3L323.6 792.4L320.6 789.3Z" fill="#1e9494"/>
<rect x="315.6" y="806.0" width="16" height="2.6" fill="#000"/>
<circle cx="323.6" cy="818.8" r="2.75" fill="#0c1a10"/>
<circle cx="323.6" cy="842.9" r="2.75" fill="#857047"/>
<path d="M364.3 759.0L367.3 764.5L361.3 764.5Z" fill="#8c8c8c"/>
<path d="M364.3 786.2L367.3 789.3L364.3 792.4L361.3 789.3Z" fill="#1e9494"/>
<rect x="356.3" y="799.5" width="16" height="2.6" fill="#000"/>
<circle cx="364.3" cy="815.2" r="2.75" fill="#0c1a10"/>
<circle cx="364.3" cy="840.8" r="2.75" fill="#857047"/>
<path d="M405.0 723.9L408.0 729.4L402.0 729.4Z" fill="#8c8c8c"/>
<path d="M405.0 771.6L408.0 774.7L405.0 777.8L402.0 774.7Z" fill="#1e9494"/>
<rect x="397.0" y="791.0" width="16" height="2.6" fill="#000"/>
<circle cx="405.0" cy="828.1" r="2.75" fill="#0c1a10"/>
<circle cx="405.0" cy="842.9" r="2.75" fill="#857047"/>
<circle cx="445.6" cy="756.3" r="2.75" fill="#1e9494"/>
<path d="M445.6 780.3L448.6 783.4L445.6 786.5L442.6 783.4Z" fill="#e0248a"/>
<path d="M445.6 786.6L448.6 792.1L442.6 792.1Z" fill="#25b3bb"/>
<rect x="437.6" y="794.1" width="16" height="2.6" fill="#000"/>
<rect x="443.1" y="803.2" width="5.1" height="5.1" fill="#5f6ea8"/>
<circle cx="445.6" cy="809.9" r="2.75" fill="#0c1a10"/>
<rect x="443.1" y="817.7" width="5.1" height="5.1" fill="#e31a1c"/>
<path d="M486.3 742.0L489.3 745.1L486.3 748.2L483.3 745.1Z" fill="#e0248a"/>
<path d="M486.3 751.8L489.3 757.3L483.3 757.3Z" fill="#8c8c8c"/>
<path d="M486.3 758.1L489.3 761.2L486.3 764.3L483.3 761.2Z" fill="#1e9494"/>
<rect x="483.8" y="764.5" width="5.1" height="5.1" fill="#f47c20"/>
<rect x="483.8" y="768.7" width="5.1" height="5.1" fill="#e31a1c"/>
<rect x="478.3" y="773.8" width="16" height="2.6" fill="#000"/>
<circle cx="486.3" cy="796.8" r="2.75" fill="#0c1a10"/>
<circle cx="486.3" cy="835.5" r="2.75" fill="#857047"/>
<line x1="478.0" y1="705.1" x2="493.5" y2="705.1" stroke="#000" stroke-width="3"/>
<path d="M483.70 698.20H489.30M484.90 695.20L488.10 701.20M484.90 701.20L488.10 695.20" stroke="#1a1a1a" stroke-width="1.15" fill="none"/>
<path d="M67.7 956.4V953.4H165.8V956.4" fill="none" stroke="#000" stroke-width="2"/>
<path d="M187.2 955.8V952.8H257.0V955.8" fill="none" stroke="#000" stroke-width="2"/>
<path d="M277.5 956.6V953.6H410.5V956.6" fill="none" stroke="#000" stroke-width="2"/>
<path d="M438.3 956.2V953.2H498.5V956.2" fill="none" stroke="#000" stroke-width="2"/>
<text x="0.80" y="21.10" font-size="27.50" font-weight="bold" textLength="20.47" lengthAdjust="spacingAndGlyphs" fill="#000">A</text>
<text x="217.05" y="20.70" font-size="19.20" textLength="110.26" lengthAdjust="spacingAndGlyphs" fill="#111">T cell lineage</text>
<text transform="translate(17.40 210.05) rotate(-90)" font-size="15.00" textLength="177.15" lengthAdjust="spacingAndGlyphs" fill="#111">% WASP-expressing cells</text>
<text transform="translate(75.90 268.25) rotate(-90)" font-size="14.70" textLength="28.38" lengthAdjust="spacingAndGlyphs" fill="#111">HPC</text>
<text transform="translate(108.33 267.85) rotate(-90)" font-size="14.70" textLength="27.18" lengthAdjust="spacingAndGlyphs" fill="#111">DN1</text>
<text transform="translate(141.03 267.85) rotate(-90)" font-size="14.70" textLength="29.65" lengthAdjust="spacingAndGlyphs" fill="#111">DN2</text>
<text transform="translate(173.45 267.85) rotate(-90)" font-size="14.70" textLength="28.87" lengthAdjust="spacingAndGlyphs" fill="#111">DN3</text>
<text transform="translate(205.62 267.85) rotate(-90)" font-size="14.70" textLength="28.86" lengthAdjust="spacingAndGlyphs" fill="#111">DN4</text>
<text transform="translate(237.73 263.40) rotate(-90)" font-size="14.70" textLength="17.72" lengthAdjust="spacingAndGlyphs" fill="#111">DP</text>
<text transform="translate(265.65 287.20) rotate(-90)" font-size="14.70" textLength="52.88" lengthAdjust="spacingAndGlyphs" fill="#111">CD4 SP</text>
<text transform="translate(297.60 287.70) rotate(-90)" font-size="14.70" textLength="52.88" lengthAdjust="spacingAndGlyphs" fill="#111">CD8 SP</text>
<text transform="translate(332.12 280.25) rotate(-90)" font-size="14.70" textLength="48.69" lengthAdjust="spacingAndGlyphs" fill="#111">nTregs</text>
<text transform="translate(368.73 265.90) rotate(-90)" font-size="14.70" textLength="28.79" lengthAdjust="spacingAndGlyphs" fill="#111">NKT</text>
<text transform="translate(400.25 273.85) rotate(-90)" font-size="14.70" textLength="38.08" lengthAdjust="spacingAndGlyphs" fill="#111">CD4+</text>
<text transform="translate(431.30 273.85) rotate(-90)" font-size="14.70" textLength="39.89" lengthAdjust="spacingAndGlyphs" fill="#111">CD8+</text>
<text transform="translate(460.62 278.70) rotate(-90)" font-size="14.70" textLength="48.69" lengthAdjust="spacingAndGlyphs" fill="#111">nTregs</text>
<text transform="translate(496.47 268.35) rotate(-90)" font-size="14.70" textLength="28.10" lengthAdjust="spacingAndGlyphs" fill="#111">NKT</text>
<text x="61.70" y="310.65" font-size="15.30" textLength="24.58" lengthAdjust="spacingAndGlyphs" fill="#111">BM</text>
<text x="215.00" y="311.90" font-size="15.30" textLength="30.26" lengthAdjust="spacingAndGlyphs" fill="#111">THY</text>
<text x="435.65" y="311.90" font-size="15.30" textLength="27.48" lengthAdjust="spacingAndGlyphs" fill="#111">SPL</text>
<text x="-0.45" y="351.75" font-size="27.50" font-weight="bold" textLength="19.83" lengthAdjust="spacingAndGlyphs" fill="#000">B</text>
<text x="224.25" y="351.30" font-size="19.20" textLength="113.44" lengthAdjust="spacingAndGlyphs" fill="#111">B cell lineage</text>
<text transform="translate(17.40 542.20) rotate(-90)" font-size="15.00" textLength="177.10" lengthAdjust="spacingAndGlyphs" fill="#111">% WASP-expressing cells</text>
<text transform="translate(77.68 597.00) rotate(-90)" font-size="14.70" textLength="29.09" lengthAdjust="spacingAndGlyphs" fill="#111">Fr A</text>
<text transform="translate(102.95 609.05) rotate(-90)" font-size="14.70" textLength="47.81" lengthAdjust="spacingAndGlyphs" fill="#111">Fr B+C</text>
<text transform="translate(127.67 597.55) rotate(-90)" font-size="14.70" textLength="28.19" lengthAdjust="spacingAndGlyphs" fill="#111">Fr D</text>
<text transform="translate(153.27 598.90) rotate(-90)" font-size="14.70" textLength="26.72" lengthAdjust="spacingAndGlyphs" fill="#111">Fr E</text>
<text transform="translate(177.88 598.90) rotate(-90)" font-size="14.70" textLength="25.92" lengthAdjust="spacingAndGlyphs" fill="#111">Fr F</text>
<text transform="translate(227.17 591.80) rotate(-90)" font-size="14.70" textLength="16.34" lengthAdjust="spacingAndGlyphs" fill="#111">T1</text>
<text transform="translate(250.95 605.95) rotate(-90)" font-size="14.70" textLength="42.51" lengthAdjust="spacingAndGlyphs" fill="#111">T2-FO</text>
<text transform="translate(276.35 595.35) rotate(-90)" font-size="14.70" textLength="18.89" lengthAdjust="spacingAndGlyphs" fill="#111">FO</text>
<text transform="translate(301.57 609.30) rotate(-90)" font-size="14.70" textLength="52.46" lengthAdjust="spacingAndGlyphs" fill="#111">T2-MZP</text>
<text transform="translate(327.08 593.90) rotate(-90)" font-size="14.70" textLength="19.93" lengthAdjust="spacingAndGlyphs" fill="#111">MZ</text>
<text transform="translate(396.25 599.25) rotate(-90)" font-size="14.70" textLength="28.86" lengthAdjust="spacingAndGlyphs" fill="#111">HPC</text>
<text transform="translate(424.38 593.90) rotate(-90)" font-size="14.70" textLength="16.47" lengthAdjust="spacingAndGlyphs" fill="#111">B1</text>
<text transform="translate(443.67 594.15) rotate(-90)" font-size="14.70" textLength="18.51" lengthAdjust="spacingAndGlyphs" fill="#111">B2</text>
<text transform="translate(464.33 601.70) rotate(-90)" font-size="14.70" textLength="34.47" lengthAdjust="spacingAndGlyphs" fill="#111">PNA-</text>
<text transform="translate(483.08 602.50) rotate(-90)" font-size="14.70" textLength="39.12" lengthAdjust="spacingAndGlyphs" fill="#111">PNA+</text>
<text transform="translate(502.95 602.50) rotate(-90)" font-size="14.70" textLength="47.72" lengthAdjust="spacingAndGlyphs" fill="#111">B220+</text>
<text x="122.70" y="636.20" font-size="15.30" textLength="25.39" lengthAdjust="spacingAndGlyphs" fill="#111">BM</text>
<text x="263.30" y="636.20" font-size="15.30" textLength="27.48" lengthAdjust="spacingAndGlyphs" fill="#111">SPL</text>
<text x="377.50" y="635.30" font-size="15.30" textLength="24.97" lengthAdjust="spacingAndGlyphs" fill="#111">BM</text>
<text x="418.30" y="635.55" font-size="15.30" textLength="18.63" lengthAdjust="spacingAndGlyphs" fill="#111">PT</text>
<text x="449.00" y="635.83" font-size="15.30" textLength="27.84" lengthAdjust="spacingAndGlyphs" fill="#111">PPs</text>
<text x="492.20" y="635.95" font-size="15.30" textLength="21.18" lengthAdjust="spacingAndGlyphs" fill="#111">PB</text>
<text x="2.10" y="676.85" font-size="27.50" font-weight="bold" textLength="19.24" lengthAdjust="spacingAndGlyphs" fill="#000">C</text>
<text x="158.80" y="682.20" font-size="19.20" textLength="248.92" lengthAdjust="spacingAndGlyphs" fill="#111">Myeloid lineage and Platelets</text>
<text transform="translate(16.50 872.20) rotate(-90)" font-size="15.00" textLength="177.10" lengthAdjust="spacingAndGlyphs" fill="#111">% WASP-expressing cells</text>
<text transform="translate(85.60 926.10) rotate(-90)" font-size="14.70" textLength="27.91" lengthAdjust="spacingAndGlyphs" fill="#111">HPC</text>
<text transform="translate(125.57 938.10) rotate(-90)" font-size="14.70" textLength="44.59" lengthAdjust="spacingAndGlyphs" fill="#111">Imm N</text>
<text transform="translate(166.95 934.15) rotate(-90)" font-size="14.70" textLength="41.46" lengthAdjust="spacingAndGlyphs" fill="#111">Mat N</text>
<text transform="translate(206.30 939.95) rotate(-90)" font-size="14.70" textLength="47.92" lengthAdjust="spacingAndGlyphs" fill="#111">Mo/Ma</text>
<text transform="translate(247.25 922.25) rotate(-90)" font-size="14.70" textLength="19.40" lengthAdjust="spacingAndGlyphs" fill="#111">DC</text>
<text transform="translate(288.72 922.50) rotate(-90)" font-size="14.70" textLength="20.11" lengthAdjust="spacingAndGlyphs" fill="#111">NK</text>
<text transform="translate(330.05 922.50) rotate(-90)" font-size="14.70" textLength="20.67" lengthAdjust="spacingAndGlyphs" fill="#111">DC</text>
<text transform="translate(371.30 938.85) rotate(-90)" font-size="14.70" textLength="47.66" lengthAdjust="spacingAndGlyphs" fill="#111">Mo/Ma</text>
<text transform="translate(410.40 935.00) rotate(-90)" font-size="14.70" textLength="42.33" lengthAdjust="spacingAndGlyphs" fill="#111">Mat N</text>
<text transform="translate(452.30 939.80) rotate(-90)" font-size="14.70" textLength="48.07" lengthAdjust="spacingAndGlyphs" fill="#111">Mo/Ma</text>
<text transform="translate(488.30 949.45) rotate(-90)" font-size="14.70" textLength="61.94" lengthAdjust="spacingAndGlyphs" fill="#111">Platelets</text>
<text x="102.50" y="978.00" font-size="15.30" textLength="24.97" lengthAdjust="spacingAndGlyphs" fill="#111">BM</text>
<text x="166.55" y="977.72" font-size="15.30" textLength="45.22" lengthAdjust="spacingAndGlyphs" fill="#111">In vitro</text>
<text x="223.80" y="977.72" font-size="15.30" textLength="45.43" lengthAdjust="spacingAndGlyphs" fill="#111">culture</text>
<text x="332.00" y="977.80" font-size="15.30" textLength="27.13" lengthAdjust="spacingAndGlyphs" fill="#111">SPL</text>
<text x="456.50" y="977.50" font-size="15.30" textLength="21.69" lengthAdjust="spacingAndGlyphs" fill="#111">PB</text>
</svg>
</body></html>
